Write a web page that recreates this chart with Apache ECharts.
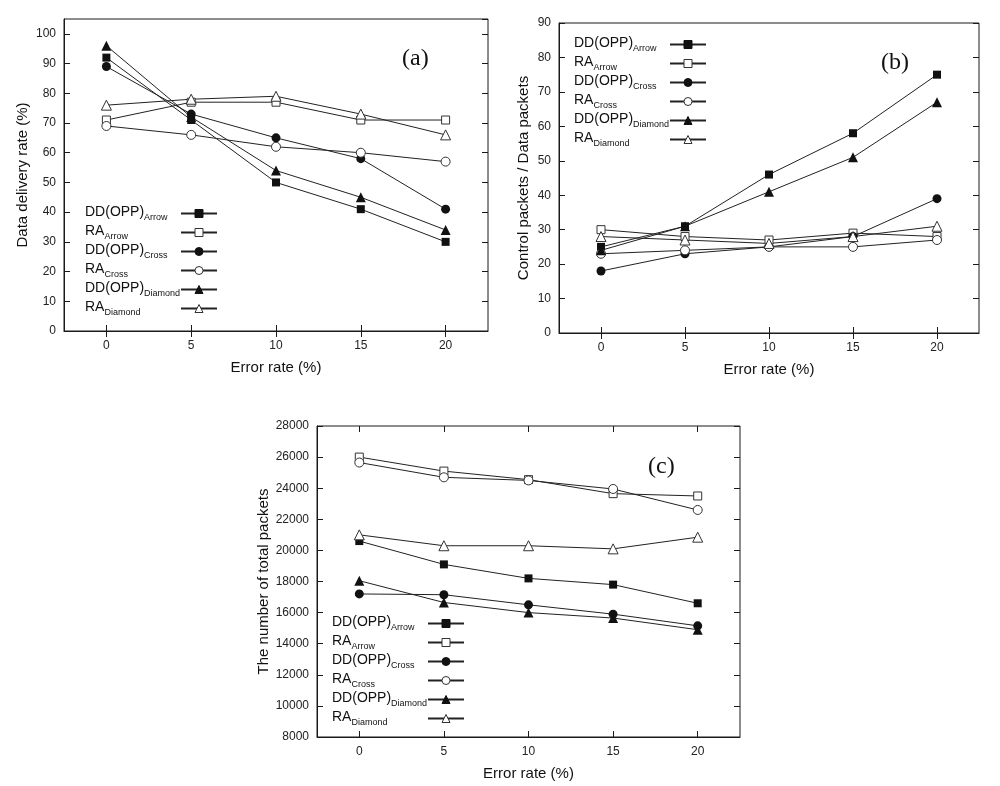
<!DOCTYPE html>
<html><head><meta charset="utf-8">
<script src="https://cdn.jsdelivr.net/npm/echarts@6/dist/echarts.min.js"></script>
<style>html,body{margin:0;padding:0;background:#fff}#chart{width:1000px;height:786px}</style>
</head><body><div id="chart"></div>
<script>
// ---------- data ----------
const errorRates = ['0', '5', '10', '15', '20'];
const legendMain = ['DD(OPP)', 'RA', 'DD(OPP)', 'RA', 'DD(OPP)', 'RA'];
const legendSub = ['Arrow', 'Arrow', 'Cross', 'Cross', 'Diamond', 'Diamond'];

// (a) Data delivery rate (%)
const deliveryDDArrow   = [92, 71, 50, 41, 30];
const deliveryRAArrow   = [71, 77, 77, 71, 71];
const deliveryDDCross   = [89, 73, 65, 58, 41];
const deliveryRACross   = [69, 66, 62, 60, 57];
const deliveryDDDiamond = [96, 72, 54, 45, 34];
const deliveryRADiamond = [76, 78, 79, 73, 66];

// (b) Control packets / Data packets
const controlDDArrow   = [25, 31, 46, 58, 75];
const controlRAArrow   = [30, 28, 27, 29, 28];
const controlDDCross   = [18, 23, 25, 28, 39];
const controlRACross   = [23, 24, 25, 25, 27];
const controlDDDiamond = [24, 31, 41, 51, 67];
const controlRADiamond = [28, 27, 26, 28, 31];

// (c) The number of total packets
const totalDDArrow   = [20600, 19100, 18200, 17800, 16600];
const totalRAArrow   = [26000, 25100, 24550, 23650, 23500];
const totalDDCross   = [17200, 17150, 16500, 15900, 15150];
const totalRACross   = [25650, 24700, 24500, 23950, 22600];
const totalDDDiamond = [18050, 16650, 16000, 15650, 14900];
const totalRADiamond = [21000, 20300, 20300, 20100, 20850];

const panelLabels = ['(a)', '(b)', '(c)'];
const yAxisNames = ['Data delivery rate (%)', 'Control packets / Data packets', 'The number of total packets'];
const xAxisName = 'Error rate (%)';

// ---------- build ----------
const seriesNames = legendMain.map((m, i) => m + legendSub[i]);
const panelData = [
  [deliveryDDArrow, deliveryRAArrow, deliveryDDCross, deliveryRACross, deliveryDDDiamond, deliveryRADiamond],
  [controlDDArrow, controlRAArrow, controlDDCross, controlRACross, controlDDDiamond, controlRADiamond],
  [totalDDArrow, totalRAArrow, totalDDCross, totalRACross, totalDDDiamond, totalRADiamond]
];
const symbols = ['rect', 'rect', 'circle', 'circle', 'triangle', 'triangle'];
const hollow = [false, true, false, true, false, true];
const symbolSizes = [8, 8, 9, 9, 10, 10];

const grids = [
  { left: 64, top: 19, width: 424, height: 312 },
  { left: 559, top: 23, width: 420, height: 310 },
  { left: 317, top: 426, width: 423, height: 311 }
];
const yRanges = [
  { min: 0, max: 105, interval: 10 },
  { min: 0, max: 90, interval: 10 },
  { min: 8000, max: 28000, interval: 2000 }
];
const yNameGaps = [34, 28, 46];
const legendPos = [
  { left: 85, top: 205 },
  { left: 574, top: 36 },
  { left: 332, top: 615 }
];
const titlePos = [
  { left: 402, top: 47 },
  { left: 881, top: 51 },
  { left: 648, top: 455 }
];

const FONT = 'Liberation Sans, Arial, sans-serif';
const INK = '#1a1a1a';

const xAxes = [], yAxes = [], series = [], legends = [], titles = [];
grids.forEach((g, p) => {
  Object.assign(g, { show: true, borderColor: INK, borderWidth: 1, backgroundColor: '#fff' });
  const tick = { show: true, inside: true, length: 6, alignWithLabel: true, lineStyle: { color: INK, width: 1 } };
  xAxes.push({
    type: 'category', gridIndex: p, data: errorRates, boundaryGap: true, position: 'bottom',
    axisLine: { show: true, lineStyle: { color: INK, width: 1 } },
    axisTick: tick,
    axisLabel: { color: '#222', fontSize: 12, fontFamily: FONT, margin: 9 },
    splitLine: { show: false },
    name: xAxisName, nameLocation: 'middle', nameGap: 29,
    nameTextStyle: { color: '#111', fontSize: 15, fontFamily: FONT }
  });
  xAxes.push({
    type: 'category', gridIndex: p, data: errorRates, boundaryGap: true, position: 'top',
    axisLine: { show: false }, axisTick: tick, axisLabel: { show: false }, splitLine: { show: false }
  });
  const r = yRanges[p];
  const ytick = { show: true, inside: true, length: 6, lineStyle: { color: INK, width: 1 } };
  yAxes.push({
    type: 'value', gridIndex: p, position: 'left', min: r.min, max: r.max, interval: r.interval,
    axisLine: { show: true, lineStyle: { color: INK, width: 1 } },
    axisTick: ytick,
    axisLabel: {
      color: '#222', fontSize: 12, fontFamily: FONT, margin: 8, showMaxLabel: (r.max - r.min) % r.interval === 0,
      formatter: v => ((v - r.min) % r.interval === 0 ? String(v) : '')
    },
    splitLine: { show: false },
    name: yAxisNames[p], nameLocation: 'middle', nameGap: yNameGaps[p],
    nameTextStyle: { color: '#111', fontSize: 15, fontFamily: FONT }
  });
  yAxes.push({
    type: 'value', gridIndex: p, position: 'right', min: r.min, max: r.max, interval: r.interval,
    axisLine: { show: false }, axisTick: ytick, axisLabel: { show: false }, splitLine: { show: false }
  });
  panelData[p].forEach((arr, i) => {
    series.push({
      name: seriesNames[i], type: 'line', xAxisIndex: 2 * p, yAxisIndex: 2 * p,
      data: arr, symbol: symbols[i], symbolSize: symbolSizes[i],
      lineStyle: { color: '#222', width: 1 },
      itemStyle: hollow[i]
        ? { color: '#fff', borderColor: '#333', borderWidth: 1 }
        : { color: '#111', borderColor: '#111', borderWidth: 0 },
      emphasis: { disabled: true }, animation: false, z: 3
    });
  });
  legends.push({
    show: true, orient: 'vertical', align: 'right', left: legendPos[p].left, top: legendPos[p].top,
    padding: 0, itemGap: 2, itemWidth: 36, itemHeight: 10,
    itemStyle: { borderWidth: 1 },
    data: seriesNames, selectedMode: false, backgroundColor: 'rgba(255,255,255,0)',
    formatter: name => {
      const i = seriesNames.indexOf(name);
      return '{m|' + legendMain[i] + '}{s|' + legendSub[i] + '}';
    },
    textStyle: {
      width: 91, color: '#111', fontFamily: FONT,
      rich: {
        m: { fontSize: 14, lineHeight: 17, align: 'left', verticalAlign: 'top', fontFamily: FONT, color: '#111' },
        s: { fontSize: 9, lineHeight: 7, align: 'left', verticalAlign: 'bottom', fontFamily: FONT, color: '#111' }
      }
    }
  });
  titles.push({
    text: panelLabels[p], left: titlePos[p].left, top: titlePos[p].top, padding: 0,
    textStyle: { fontFamily: 'Liberation Serif, Times New Roman, serif', fontSize: 24, fontWeight: 'normal', color: '#111' }
  });
});

const chart = echarts.init(document.getElementById('chart'), null, { renderer: 'canvas' });
chart.setOption({
  backgroundColor: '#fff',
  animation: false,
  title: titles,
  legend: legends,
  grid: grids,
  xAxis: xAxes,
  yAxis: yAxes,
  series: series
});
</script></body></html>
